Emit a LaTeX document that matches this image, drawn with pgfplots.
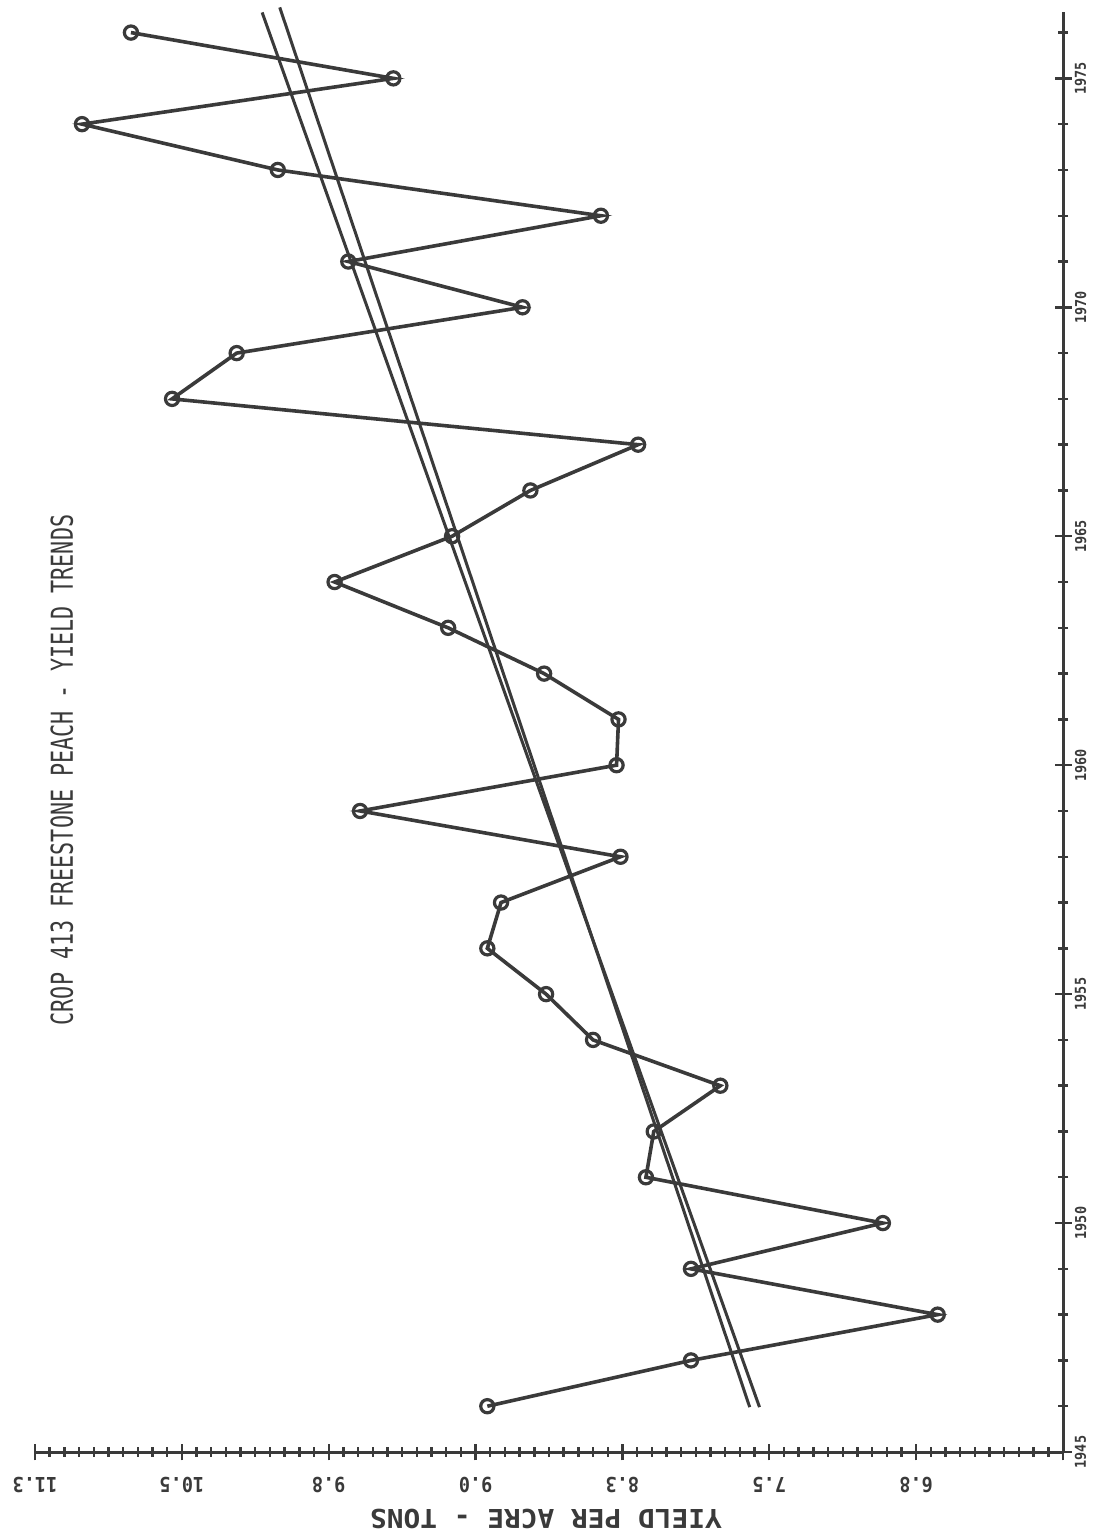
\documentclass[border=0pt]{standalone}
\usepackage{pgfplots}
\pgfplotsset{compat=1.18}
\usepackage{pgfplotstable}
\usepackage{fontspec}
\setmainfont{DejaVu Sans Mono}
\newfontfamily\titlefont[FakeStretch=0.72]{DejaVu Sans Mono}
\newfontfamily\labfont[FakeStretch=1.07]{DejaVu Sans Mono}
\newfontfamily\tickfont[FakeStretch=0.9]{DejaVu Sans Mono}
\definecolor{ink}{HTML}{3A3A3A}

\pgfplotstableread{
year yield
1946 8.94
1947 7.90
1948 6.64
1949 7.90
1950 6.92
1951 8.13
1952 8.09
1953 7.75
1954 8.40
1955 8.64
1956 8.94
1957 8.87
1958 8.26
1959 9.59
1960 8.28
1961 8.27
1962 8.65
1963 9.14
1964 9.72
1965 9.12
1966 8.72
1967 8.17
1968 10.55
1969 10.22
1970 8.76
1971 9.65
1972 8.36
1973 10.01
1974 11.01
1975 9.42
1976 10.76
}\peach

\begin{document}
\begin{tikzpicture}[x=1pt,y=1pt]
\useasboundingbox (0,0) rectangle (546,765);
\begin{axis}[
  at={(17.5pt,39pt)}, anchor=south west,
  scale only axis, width=514pt, height=720pt,
  xmin=-11.25, xmax=-6, ymin=1945, ymax=1976.45,
  axis x line=bottom, axis y line=right,
  axis line style={-, line width=1.5pt, color=ink},
  clip=false,
  xtick={-11.25,-10.5,-9.75,-9,-8.25,-7.5,-6.75,-6},
  xticklabels={11.3,10.5,9.8,9.0,8.3,7.5,6.8,{}},
  minor x tick num=9,
  ytick={1945,1950,1955,1960,1965,1970,1975},
  yticklabels={1945,1950,1955,1960,1965,1970,1975},
  minor ytick={1946,1947,1948,1949,1951,1952,1953,1954,1956,1957,1958,1959,1961,1962,1963,1964,1966,1967,1968,1969,1971,1972,1973,1974,1976},
  tick align=center,
  major tick length=8.5pt, minor tick length=5pt,
  tick style={ink, line width=1.2pt},
  xticklabel style={rotate=180, anchor=south, inner sep=0pt,
    font=\tickfont\bfseries\fontsize{10.3}{10.3}\selectfont, text=ink},
  xticklabel shift=8pt,
  yticklabel style={rotate=90, anchor=north, inner sep=0pt,
    font=\tickfont\bfseries\fontsize{7.5}{7.5}\selectfont, text=ink},
  yticklabel shift=1.5pt,
]
\addplot[ink, line width=1.5pt] coordinates {(-7.55,1945.98) (-10.09,1976.44)};
\addplot[ink, line width=1.5pt] coordinates {(-7.60,1945.98) (-10.00,1976.55)};
\addplot[ink, line width=1.8pt, mark=o, mark size=3.3pt, mark options={line width=1.6pt, solid}]
  table[x expr=-\thisrow{yield}, y=year]{\peach};
\end{axis}
\node[rotate=90, text=ink, font=\titlefont\fontsize{15.1}{15.1}\selectfont] at (31,380) {CROP 413 FREESTONE PEACH - YIELD TRENDS};
\node[rotate=180, text=ink, font=\labfont\bfseries\fontsize{13}{13}\selectfont] at (273,5.5) {YIELD PER ACRE - TONS};
\end{tikzpicture}
\end{document}
